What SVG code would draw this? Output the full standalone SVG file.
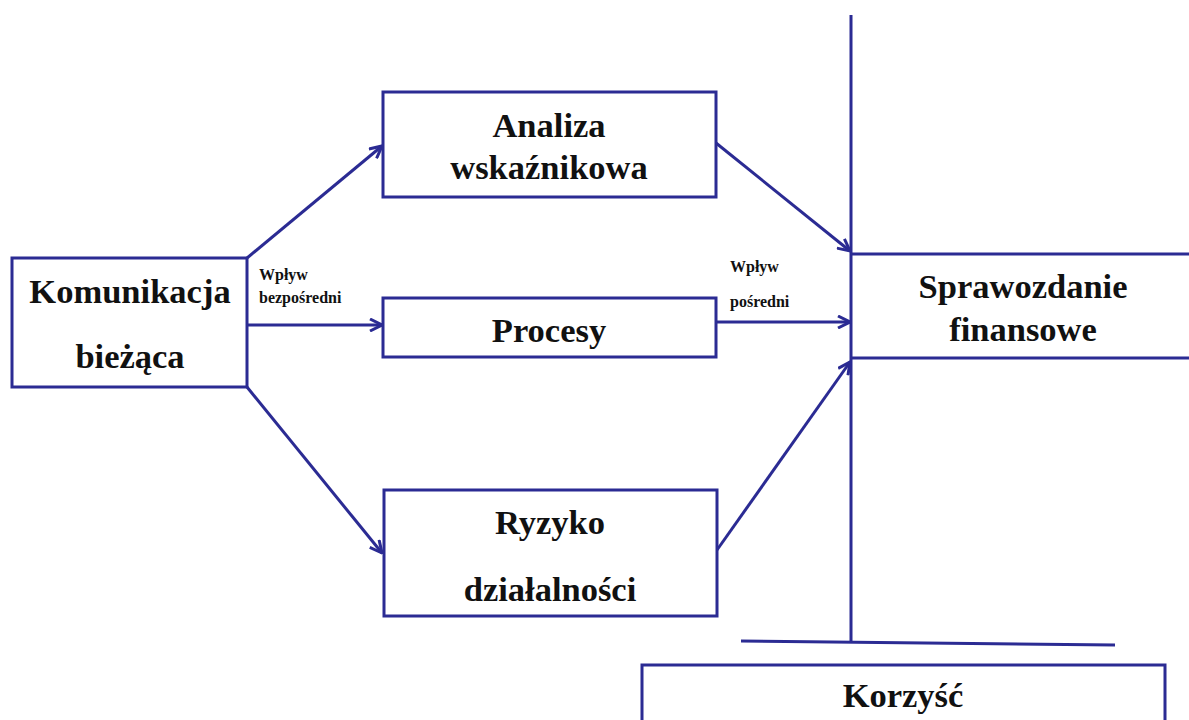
<svg xmlns="http://www.w3.org/2000/svg" width="1189" height="720" viewBox="0 0 1189 720">
  <defs>
    <style>
      .box { fill: #ffffff; stroke: #2b2b93; stroke-width: 3; }
      .ln { fill: none; stroke: #2b2b93; stroke-width: 3; }
      .big { font-family: "Liberation Serif", "Times New Roman", serif; font-weight: bold; font-size: 34.5px; fill: #111; text-anchor: middle; }
      .small { font-family: "Liberation Serif", "Times New Roman", serif; font-weight: bold; font-size: 16px; fill: #111; }
    </style>
    <marker id="arrow" viewBox="0 0 14 14" refX="13" refY="7" markerWidth="14" markerHeight="14" markerUnits="userSpaceOnUse" orient="auto">
      <path d="M1,1 L13,7 L1,13" fill="none" stroke="#2b2b93" stroke-width="3"/>
    </marker>
  </defs>

  <rect width="1189" height="720" fill="#ffffff"/>

  <!-- frame lines on the right: axis, report band, benefit bar -->
  <g id="frame">
    <line class="ln" x1="851" y1="15" x2="851" y2="642"/>
    <line class="ln" x1="851" y1="254" x2="1189" y2="254"/>
    <line class="ln" x1="851" y1="358" x2="1189" y2="358"/>
    <line class="ln" x1="741" y1="641" x2="1115" y2="645"/>
  </g>

  <g id="connectors">
    <line class="ln" x1="247" y1="258" x2="382" y2="146" marker-end="url(#arrow)"/>
    <line class="ln" x1="247" y1="325" x2="382" y2="325" marker-end="url(#arrow)"/>
    <line class="ln" x1="247" y1="387" x2="382" y2="553" marker-end="url(#arrow)"/>
    <line class="ln" x1="716" y1="143" x2="850" y2="251" marker-end="url(#arrow)"/>
    <line class="ln" x1="716" y1="322" x2="850" y2="322" marker-end="url(#arrow)"/>
    <line class="ln" x1="717" y1="550" x2="850" y2="362" marker-end="url(#arrow)"/>
    <text class="small" x="259" y="280">Wpływ</text>
    <text class="small" x="259" y="303">bezpośredni</text>
    <text class="small" x="730" y="272">Wpływ</text>
    <text class="small" x="730" y="307">pośredni</text>
  </g>

  <g id="komunikacja">
    <rect class="box" x="12" y="258" width="235" height="129"/>
    <text class="big" x="130" y="303">Komunikacja</text>
    <text class="big" x="130" y="368">bieżąca</text>
  </g>

  <g id="analiza">
    <rect class="box" x="383" y="92" width="333" height="105"/>
    <text class="big" x="549" y="137">Analiza</text>
    <text class="big" x="549" y="179">wskaźnikowa</text>
  </g>

  <g id="procesy">
    <rect class="box" x="383" y="298" width="333" height="59"/>
    <text class="big" x="549" y="342">Procesy</text>
  </g>

  <g id="ryzyko">
    <rect class="box" x="384" y="490" width="333" height="126"/>
    <text class="big" x="550" y="534">Ryzyko</text>
    <text class="big" x="550" y="601">działalności</text>
  </g>

  <g id="sprawozdanie">
    <text class="big" x="1023" y="298">Sprawozdanie</text>
    <text class="big" x="1023" y="341">finansowe</text>
  </g>

  <g id="korzysc">
    <rect class="box" x="642" y="665" width="523" height="70"/>
    <text class="big" x="903" y="707">Korzyść</text>
  </g>
</svg>
